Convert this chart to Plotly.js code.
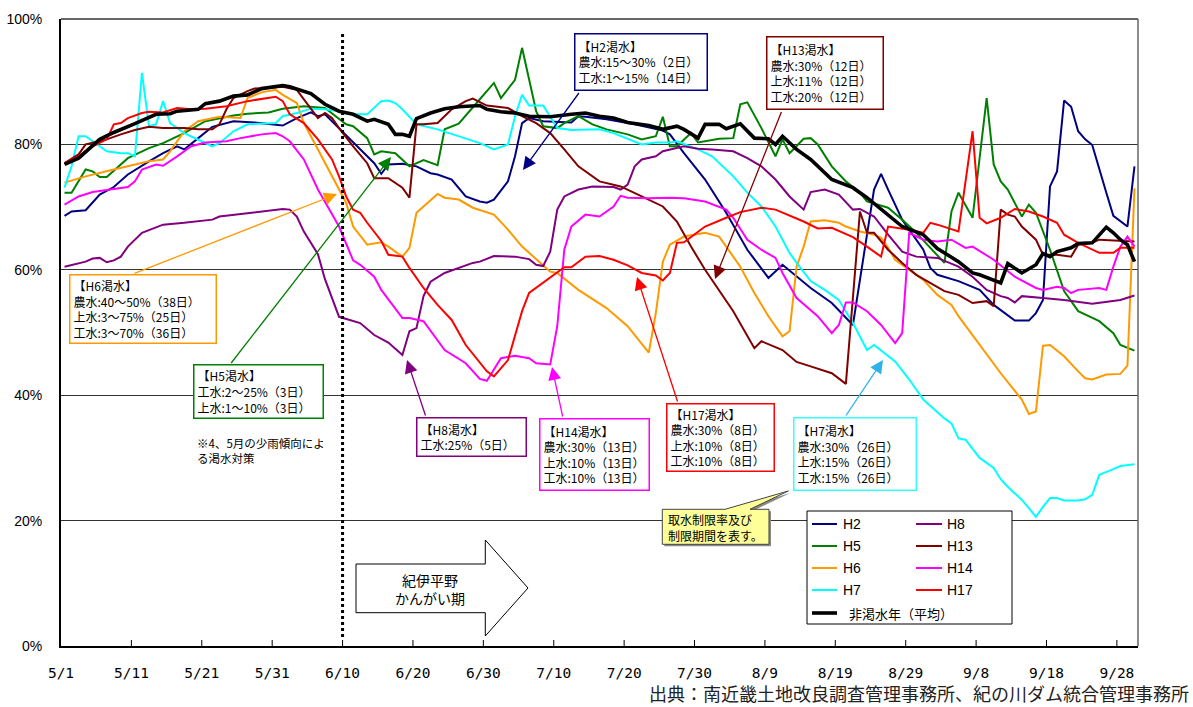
<!DOCTYPE html>
<html><head><meta charset="utf-8">
<script src="https://cdn.plot.ly/plotly-3.0.1.min.js"></script>
<style>html,body{margin:0;padding:0;background:#fff}#chart{width:1193px;height:707px}</style>
</head><body><div id="chart"></div>
<script>
// ---- x categories: day index counted from 5/1 ----
const tickLabels = ['5/1','5/11','5/21','5/31','6/10','6/20','6/30','7/10','7/20','7/30','8/9','8/19','8/29','9/8','9/18','9/28'];
const yTickVals = [0,20,40,60,80,100];
const yTickText = ['0%','20%','40%','60%','80%','100%'];

// ---- series (day index, storage %) ----
const h2Day = [0,1,3,5,7,9,12,14,16,17,19,21,24,27,31,33,35,36,37,39,42,44,45,46,48,50,52,53,55,57,59,60,61,63,64,65,66,68,72,73,74,77,81,85,86,88,91,94,97,100,102,104,106,109,112,115,116,117,119,120,122,123,124,127,130,132,135,137,138,139,140,141,142,143,144,145,146,148,149,151,152];
const h2Val = [68.6,69.3,69.5,72.0,73.2,75.2,77.3,78.6,79.7,79.2,81.0,82.8,83.7,83.5,83.0,84.2,85.1,84.5,84.8,82.6,79.2,77.0,75.3,76.8,76.9,76.5,75.4,75.2,74.4,71.7,70.9,70.7,71.2,74.1,78.1,83.4,84.2,83.7,83.5,84.5,84.4,84.0,83.2,82.2,81.6,78.6,74.4,69.1,63.2,58.7,60.8,58.9,57.1,54.7,51.2,72.8,75.3,72.8,68.0,66.4,63.2,60.3,59.2,58.2,56.8,54.4,51.9,51.9,53.1,55.2,73.3,75.7,87.0,86.0,82.1,80.8,79.9,72.3,68.6,66.9,76.5];

const h5Day = [0,1,3,4,5,6,9,12,14,17,20,24,26,29,31,34,37,40,41,43,44,45,47,49,51,53,54,56,59,61,62,64,65,67,68,70,71,73,75,77,80,82,84,85,86,87,89,90,93,95,96,97,99,101,102,103,105,106,107,109,111,113,114,117,119,121,123,125,126,127,129,131,132,133,134,136,137,138,140,141,142,144,147,149,150,152];
const h5Val = [72.3,72.3,76.0,75.7,74.8,74.8,77.8,79.4,80.2,81.8,83.7,84.6,84.9,85.1,85.7,86.1,85.8,83.2,82.9,81.0,78.4,78.9,78.6,76.5,77.5,76.7,82.4,83.3,87.2,89.8,87.4,90.3,95.4,85.3,82.9,82.6,83.4,84.5,83.2,82.4,81.6,80.8,81.3,84.4,79.7,79.7,81.8,80.3,80.9,81.0,86.4,86.7,82.6,78.1,80.8,78.6,80.9,81.0,80.0,76.5,74.1,72.3,70.9,69.9,68.0,65.9,63.5,61.1,69.3,72.3,68.3,87.4,76.8,74.1,72.8,68.5,70.4,69.1,63.2,60.0,56.6,53.4,51.8,49.9,48.0,47.1];

const h6Day = [0,3,7,9,12,14,15,17,19,22,25,26,28,30,31,33,34,36,38,40,41,43,45,46,48,49,50,52,53,54,56,58,61,63,65,66,69,70,73,77,80,83,84,85,86,88,91,93,94,96,98,100,102,103,104,105,106,108,110,111,113,115,116,117,118,122,124,126,127,130,133,136,137,138,139,140,142,144,145,146,148,150,151,152];
const h6Val = [73.9,74.9,76.0,76.5,77.3,77.6,78.9,82.1,83.7,84.4,84.2,87.4,88.3,88.7,87.9,86.6,83.4,79.2,74.9,70.7,66.9,64.0,64.4,63.7,62.1,63.5,69.1,71.2,72.1,71.5,71.2,69.9,68.8,66.4,63.7,62.7,59.7,59.5,56.8,53.9,51.0,46.8,53.1,61.3,64.0,65.3,65.9,65.3,63.7,60.5,56.3,52.6,49.4,50.2,60.5,63.7,67.7,67.9,67.5,66.9,66.1,65.6,65.1,63.5,61.6,58.4,56.0,54.4,52.6,48.0,43.5,39.3,37.0,37.4,47.9,48.0,46.2,43.8,42.7,42.5,43.3,43.4,44.7,73.0];

const h7Day = [0,1,2,3,4,6,8,9,10,11,12,13,14,15,17,19,21,22,24,26,29,30,31,33,35,37,39,41,43,45,46,47,48,50,53,56,59,61,63,64,65,66,68,70,72,76,78,82,84,86,87,90,92,95,97,99,101,103,104,106,108,110,112,114,115,118,120,122,125,126,127,128,130,132,133,134,136,137,138,139,140,141,142,144,145,146,147,149,150,152];
const h7Val = [73.1,76.5,81.3,81.3,80.5,78.9,78.6,78.6,78.1,91.4,82.9,83.2,86.9,83.4,81.8,80.8,79.7,80.2,82.1,83.2,83.3,83.4,84.5,85.0,85.7,85.6,85.3,84.8,84.8,86.9,87.0,86.6,85.6,83.2,82.4,81.3,80.2,79.2,80.0,84.5,87.9,86.2,86.2,82.6,82.3,82.4,81.8,80.0,80.3,80.3,80.5,79.2,78.1,74.9,72.3,70.1,66.9,62.7,61.1,58.2,56.8,55.2,51.5,47.2,48.0,45.4,42.5,39.3,36.3,35.5,33.1,32.9,30.0,28.4,26.6,25.4,23.3,22.0,20.6,22.2,23.6,23.6,23.2,23.2,23.4,24.1,27.3,28.2,28.7,29.0];

const h8Day = [0,1,3,4,5,6,7,8,9,11,13,14,17,19,21,22,25,26,29,31,32,33,34,36,37,38,39,42,44,46,48,49,50,51,52,54,56,58,59,61,64,66,67,68,69,70,71,73,75,78,79,80,81,82,84,85,88,90,92,95,97,99,101,103,105,106,108,110,112,113,115,117,119,121,124,127,129,131,133,134,135,136,139,142,146,150,152];
const h8Val = [60.5,60.8,61.3,61.8,61.9,61.2,61.5,62.1,63.7,65.9,66.7,67.2,67.5,67.7,68.0,68.5,68.9,69.1,69.4,69.7,69.6,68.5,66.1,62.5,58.5,55.5,52.5,51.5,49.6,48.4,46.4,50.2,50.7,55.8,58.1,59.5,60.3,61.1,61.3,62.2,62.1,61.7,60.8,60.6,62.9,69.6,71.7,72.8,73.3,73.2,72.8,73.6,76.5,77.6,78.1,78.9,79.7,79.3,79.2,78.9,77.8,76.5,74.4,71.7,69.6,72.4,72.8,72.0,69.6,69.7,68.5,65.6,62.9,62.1,61.9,60.5,58.9,56.8,55.8,55.5,54.8,55.8,55.5,55.2,54.6,55.2,55.9];

const h13Day = [0,2,3,6,8,10,12,14,17,19,21,22,23,24,26,27,29,31,33,34,35,36,37,38,39,41,43,44,46,48,49,50,51,53,55,57,58,60,63,65,67,69,71,73,76,79,82,85,87,89,91,95,98,99,102,104,106,109,111,113,114,115,117,119,121,123,125,127,129,131,132,133,134,135,136,138,139,141,143,144,146,147,152];
const h13Val = [77.0,78.4,80.0,80.8,81.6,82.3,82.8,82.6,82.6,82.4,82.4,83.2,85.6,87.4,88.5,88.9,89.0,89.2,88.7,87.2,85.6,84.2,85.0,84.2,82.6,79.7,77.0,74.6,74.6,73.1,71.5,83.2,83.2,83.4,85.6,86.9,87.3,86.2,85.8,84.5,83.4,81.8,79.2,76.5,74.1,73.3,71.7,70.1,67.7,63.7,60.0,53.4,47.5,48.6,47.2,45.3,44.6,43.5,41.8,69.3,65.9,65.9,63.2,61.1,59.2,57.9,56.6,56.0,54.7,55.0,54.2,69.6,68.8,68.5,66.9,64.8,62.4,62.4,62.1,64.0,64.3,64.8,64.5];

const h14Day = [0,2,4,7,9,10,11,13,14,16,18,20,23,25,28,30,31,32,34,36,39,41,42,44,45,48,49,51,54,57,59,60,62,64,66,67,69,70,71,72,74,76,78,79,80,83,86,88,91,94,95,97,99,101,102,104,106,107,109,110,111,112,114,116,118,119,120,122,124,126,128,129,132,135,138,139,141,142,143,144,147,148,149,150,151,152];
const h14Val = [70.4,71.7,72.4,72.9,73.2,74.1,76.0,76.8,76.6,78.1,79.7,80.3,80.5,81.0,81.6,81.8,81.3,80.5,77.6,72.8,66.9,61.5,60.8,58.9,56.8,52.3,52.3,51.8,47.2,45.1,42.6,42.3,45.9,46.3,45.9,45.1,44.9,51.0,63.2,66.9,68.8,68.5,70.1,71.8,71.5,71.4,71.5,71.4,70.9,69.6,68.3,64.8,63.2,61.9,59.5,55.5,53.6,52.6,49.9,51.2,54.8,54.8,53.4,51.2,48.3,49.9,65.9,64.8,64.5,64.8,63.5,63.7,61.6,58.9,57.1,56.8,57.3,57.1,56.3,56.8,57.1,56.8,60.5,63.7,65.3,63.7];

const h17Day = [0,2,4,6,7,8,9,11,12,14,16,18,20,23,26,28,30,31,32,34,36,38,39,40,41,42,43,45,46,48,49,51,53,55,57,60,61,63,65,66,69,71,72,74,76,78,80,82,84,85,86,87,88,90,91,94,96,99,101,105,107,109,112,114,116,117,120,122,123,124,126,127,129,130,131,133,135,137,139,141,142,144,147,149,150,152];
const h17Val = [77.0,78.1,79.7,80.8,83.2,83.4,84.2,85.0,85.2,85.1,85.8,85.6,85.7,86.1,86.9,87.3,87.6,86.9,84.8,83.4,80.8,77.6,74.9,71.7,69.6,69.1,67.5,64.6,62.4,62.1,60.3,57.1,54.4,52.0,48.0,43.8,43.0,45.6,53.4,56.3,58.7,60.4,60.4,62.1,62.2,61.6,60.7,59.5,59.1,58.3,59.5,64.3,64.4,66.1,66.9,68.3,69.2,69.9,69.6,67.7,66.6,66.7,65.2,63.7,62.1,66.9,66.4,65.9,67.5,67.2,66.4,66.1,82.1,68.3,67.4,68.3,69.7,69.3,68.5,67.5,65.6,64.3,62.7,62.7,63.5,63.5];

const avgDay = [0,2,5,7,10,13,15,16,19,20,22,24,26,28,31,32,35,37,39,41,43,44,46,47,48,49,50,52,54,56,59,60,62,64,66,69,72,74,76,78,80,83,85,87,88,90,91,93,94,96,98,100,101,102,104,106,109,112,114,116,119,122,124,127,129,130,133,134,136,138,139,140,141,143,144,146,148,149,150,151,152];
const avgVal = [76.8,77.8,80.8,81.9,83.3,84.8,84.9,85.3,85.6,86.5,86.9,87.7,87.9,88.9,89.4,89.2,88.1,86.4,85.3,84.8,83.7,84.0,83.2,81.6,81.6,81.3,84.1,85.0,85.7,86.0,86.2,85.6,85.2,85.0,84.5,84.4,84.8,85.0,84.5,84.2,83.5,83.0,82.4,82.9,82.4,81.0,83.2,83.2,82.5,83.3,81.0,80.9,80.0,81.3,79.2,77.6,74.4,73.1,71.5,69.6,66.9,65.6,63.4,61.3,59.5,59.2,57.9,61.0,59.5,60.8,62.6,62.1,62.9,63.5,64.2,64.3,66.8,65.9,64.8,64.0,61.3];

const seriesNames = ['H2','H5','H6','H7','H8','H13','H14','H17','非渇水年（平均）'];
const seriesColors = ['#000080','#008000','#FF9900','#00FFFF','#800080','#800000','#FF00FF','#FF0000','#000000'];
const seriesDays = [h2Day,h5Day,h6Day,h7Day,h8Day,h13Day,h14Day,h17Day,avgDay];
const seriesVals = [h2Val,h5Val,h6Val,h7Val,h8Val,h13Val,h14Val,h17Val,avgVal];

// ---- layout helpers ----
const W = 1193, H = 707, M = {l:61, r:55, t:19, b:61};
const PW = W - M.l - M.r, PH = H - M.t - M.b;
const px = x => (x - M.l) / PW;
const py = y => (H - M.b - y) / PH;
const CJK = '"Noto Sans CJK JP", sans-serif';
const LAT = '"Liberation Sans", Arial, sans-serif';

const traces = seriesNames.map((n, k) => ({
  type: 'scatter', mode: 'lines', name: n,
  x: seriesDays[k], y: seriesVals[k],
  line: {color: seriesColors[k], width: k === 8 ? 3.6 : 2},
  showlegend: false, hoverinfo: 'skip'
}));

const annotations = [];
const shapes = [];

function box(x0, y0, x1, y1, text, color) {
  const bw = 1.5, pad = 3;
  annotations.push({
    xref: 'paper', yref: 'paper', x: px(x0), y: py(y0), xanchor: 'left', yanchor: 'top',
    text: text, align: 'left', valign: 'middle', showarrow: false,
    width: (x1 - x0) - 2 * (bw + pad), height: (y1 - y0) - 2 * (bw + pad),
    bordercolor: color, borderwidth: bw, borderpad: pad, bgcolor: '#ffffff',
    font: {family: CJK, size: 12, color: '#000'}
  });
}
function arrow(x0, y0, x1, y1, color) {
  annotations.push({
    xref: 'paper', yref: 'paper', axref: 'paper', ayref: 'paper',
    x: px(x1), y: py(y1), ax: px(x0), ay: py(y0), text: '',
    showarrow: true, arrowhead: 2, arrowsize: 2, arrowwidth: 1.3, arrowcolor: color,
    standoff: 0, startstandoff: 0
  });
}
function text(x, y, t, opts) {
  annotations.push(Object.assign({
    xref: 'paper', yref: 'paper', x: px(x), y: py(y), text: t, showarrow: false,
    xanchor: 'left', yanchor: 'middle', align: 'left',
    font: {family: CJK, size: 12, color: '#000'}
  }, opts || {}));
}

// drought boxes
box(574, 33, 708, 91, '【H2渇水】<br>農水:15～30%（2日）<br>工水:1～15%（14日）', '#000080');
box(766, 36, 884, 110, '【H13渇水】<br>農水:30%（12日）<br>上水:11%（12日）<br>工水:20%（12日）', '#800000');
box(69, 274, 217, 344, '【H6渇水】<br>農水:40～50%（38日）<br>上水:3～75%（25日）<br>工水:3～70%（36日）', '#FF9900');
box(193, 364, 324, 419, '【H5渇水】<br>工水:2～25%（3日）<br>上水:1～10%（3日）', '#008000');
box(416, 417, 527, 457, '【H8渇水】<br>工水:25%（5日）', '#800080');
box(539, 418, 650, 491, '【H14渇水】<br>農水:30%（13日）<br>上水:10%（13日）<br>工水:10%（13日）', '#FF00FF');
box(666, 403, 775, 472, '【H17渇水】<br>農水:30%（8日）<br>上水:10%（8日）<br>工水:10%（8日）', '#FF0000');
box(793, 417, 917, 491, '【H7渇水】<br>農水:30%（26日）<br>上水:15%（26日）<br>工水:15%（26日）', '#33FFFF');

// arrows
arrow(580, 91.5, 523, 170, '#000080');
arrow(782, 110.5, 715, 279, '#800000');
arrow(133, 274, 337, 194, '#FF9900');
arrow(230, 364.5, 391, 157, '#008000');
arrow(426, 417, 407, 360, '#800080');
arrow(563, 418, 552, 367, '#FF00FF');
arrow(678, 403, 637, 277, '#FF0000');
arrow(845, 417, 883, 360, '#2DB3E8');

// note
text(195, 450, '※4、5月の少雨傾向によ<br>る渇水対策', {font: {family: CJK, size: 11.5, color: '#000'}});

// inside tick marks on the x axis (labels are pushed down by transparent outside ticks)
tickLabels.forEach((_, k) => {
  if (k === 0) return;
  shapes.push({type: 'line', xref: 'x', yref: 'paper', x0: k * 10 - 0.5, x1: k * 10 - 0.5, y0: 0, y1: 6 / PH,
    line: {color: '#000', width: 1}});
});

// dotted line at 6/10
shapes.push({type: 'line', xref: 'x', yref: 'paper', x0: 39.5, x1: 39.5, y0: py(637), y1: py(32),
  line: {color: '#000', width: 3, dash: 'dot'}});

// borders
shapes.push({type: 'line', xref: 'paper', yref: 'paper', x0: 0, x1: 1, y0: 1, y1: 1, line: {color: '#666', width: 2}});
shapes.push({type: 'line', xref: 'paper', yref: 'paper', x0: 1, x1: 1, y0: 0, y1: 1, line: {color: '#666', width: 1.5}});

// block arrow
const ba = [[356,564],[485.3,564],[485.3,540],[528,588],[485.3,636],[485.3,612.7],[356,612.7]];
shapes.push({type: 'path', xref: 'paper', yref: 'paper',
  path: 'M' + ba.map(p => px(p[0]).toFixed(5) + ',' + py(p[1]).toFixed(5)).join(' L') + ' Z',
  fillcolor: '#fff', line: {color: '#000', width: 1}});
text(430, 589, '紀伊平野<br>かんがい期', {xanchor: 'center', align: 'center', font: {family: CJK, size: 14, color: '#000'}});

// callout
const co = [[662.3,509.3],[725,509.3],[788.3,491],[750,509.3],[769,509.3],[769,544.3],[662.3,544.3]];
const coS = co.map(p => [p[0] + 2, p[1] + 2]);
shapes.push({type: 'path', xref: 'paper', yref: 'paper',
  path: 'M' + coS.map(p => px(p[0]).toFixed(5) + ',' + py(p[1]).toFixed(5)).join(' L') + ' Z',
  fillcolor: '#8a8a8a', line: {width: 0}});
shapes.push({type: 'path', xref: 'paper', yref: 'paper',
  path: 'M' + co.map(p => px(p[0]).toFixed(5) + ',' + py(p[1]).toFixed(5)).join(' L') + ' Z',
  fillcolor: '#FFFF99', line: {color: '#444', width: 1}});
text(666, 527, '取水制限率及び<br>制限期間を表す。', {font: {family: CJK, size: 12, color: '#000'}});

// manual legend
shapes.push({type: 'rect', xref: 'paper', yref: 'paper', x0: px(807), x1: px(1012), y0: py(511), y1: py(624),
  fillcolor: '#fff', line: {color: '#000', width: 1}});
const legRows = [524, 546, 568, 590, 613];
const legLeft = [0, 1, 2, 3, 8];
const legRight = [4, 5, 6, 7];
legLeft.forEach((k, r) => {
  shapes.push({type: 'line', xref: 'paper', yref: 'paper', x0: px(812), x1: px(837), y0: py(legRows[r]), y1: py(legRows[r]),
    line: {color: seriesColors[k], width: k === 8 ? 3.6 : 2}});
  if (k === 8) text(847, legRows[r], seriesNames[k], {font: {family: CJK, size: 13, color: '#000'}});
  else text(841, legRows[r], seriesNames[k], {font: {family: LAT, size: 14, color: '#000'}});
});
legRight.forEach((k, r) => {
  shapes.push({type: 'line', xref: 'paper', yref: 'paper', x0: px(916), x1: px(942), y0: py(legRows[r]), y1: py(legRows[r]),
    line: {color: seriesColors[k], width: 2}});
  text(945, legRows[r], seriesNames[k], {font: {family: LAT, size: 14, color: '#000'}});
});

// source (kept inside the page, clear of the tick labels)
text(1190, 707, '出典：南近畿土地改良調査管理事務所、紀の川ダム統合管理事務所',
  {xanchor: 'right', yanchor: 'bottom', borderpad: 0, font: {family: CJK, size: 18, color: '#222'}});

const layout = {
  width: W, height: H, margin: M,
  paper_bgcolor: '#fff', plot_bgcolor: '#fff',
  showlegend: false, hovermode: false,
  xaxis: {
    type: 'linear', range: [-0.5, 152.5], fixedrange: true,
    tickmode: 'array', tickvals: tickLabels.map((_, k) => k * 10 - 0.5), ticktext: tickLabels,
    ticks: 'outside', ticklen: 13, tickwidth: 1, tickcolor: 'rgba(0,0,0,0)',
    ticklabelshift: 3.5,
    showgrid: false, zeroline: false, showline: true, linecolor: '#000', linewidth: 2,
    tickfont: {family: '"DejaVu Sans Mono", monospace', size: 14.5, color: '#000'}
  },
  yaxis: {
    range: [0, 100], fixedrange: true,
    tickmode: 'array', tickvals: yTickVals, ticktext: yTickText,
    ticks: '', ticklabelstandoff: 14,
    showgrid: true, gridcolor: '#333', gridwidth: 1,
    zeroline: false, showline: true, linecolor: '#000', linewidth: 2,
    tickfont: {family: LAT, size: 14, color: '#000'}
  },
  shapes: shapes,
  annotations: annotations
};

Plotly.newPlot('chart', traces, layout, {displayModeBar: false, staticPlot: true});
</script>
</body></html>
